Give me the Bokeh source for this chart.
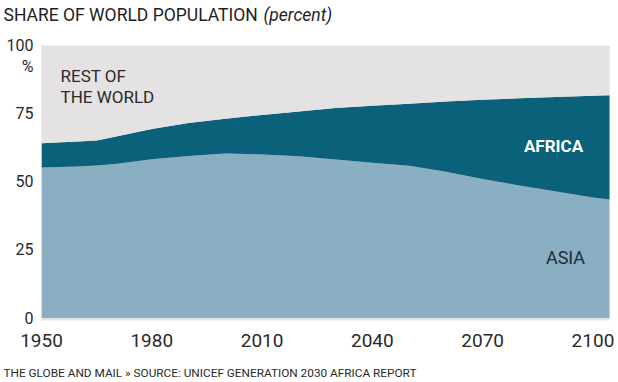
from bokeh.plotting import figure
from bokeh.models import ColumnDataSource, Label, FixedTicker, Range1d
from bokeh.layouts import column
from bokeh.embed import file_html
from bokeh.resources import INLINE

# ---- data ----
years = [1950, 1960, 1965, 1970, 1980, 1990, 2000, 2010, 2020, 2030, 2040,
         2050, 2060, 2070, 2080, 2090, 2100, 2105]
asia = [55.3, 55.7, 56.0, 56.6, 58.3, 59.5, 60.4, 60.1, 59.4, 58.2, 57.0,
        55.9, 53.7, 51.1, 48.7, 46.5, 44.3, 43.5]
africa = [8.9, 9.1, 9.2, 10.0, 11.1, 12.1, 12.8, 14.5, 16.5, 18.9, 21.0,
          22.8, 25.8, 29.1, 32.0, 34.7, 37.3, 38.3]
rest = [round(100 - a - b, 2) for a, b in zip(asia, africa)]
x_ticks = [1950, 1980, 2010, 2040, 2070, 2100]
y_ticks = [0, 25, 50, 75, 100]
pct_tick = 92.4  # position of the "%" unit mark under "100"

GRAY = "#e4e2e2"
TEAL = "#0b6179"
LIGHT = "#8aafc2"
TXT = "#2a2a2a"
FONT = "Roboto"
W = 618

X0, X1 = 1950, 2104.5
Y0, Y1 = -0.9, 100.1


def text_fig(h, top):
    f = figure(width=W, height=h, x_range=Range1d(0, W), y_range=Range1d(top + h, top),
               output_backend="svg", toolbar_location=None,
               x_axis_location=None, y_axis_location=None,
               min_border=0, outline_line_color=None, frame_align=False,
               background_fill_color="white", border_fill_color="white")
    f.grid.visible = False
    return f


def lab(fig, text, x, y, size, color=TXT, align="left", style="normal"):
    fig.add_layout(Label(x=x, y=y, text=text, text_font=FONT,
                         text_font_size=size, text_color=color, text_align=align,
                         text_baseline="middle", text_font_style=style))


# ---- header (page y 0..30) ----
head = text_fig(30, 0)
lab(head, "SHARE OF WORLD POPULATION", 3, 14, "17.5px", color="#1e1e1e")
lab(head, "(percent)", 263, 14, "17.5px", color="#1e1e1e", style="italic")

# ---- main chart (page y 30..356; frame x 41..609, y 45..320) ----
p = figure(width=W, height=326, x_range=Range1d(X0, X1), y_range=Range1d(Y0, Y1),
           output_backend="svg", toolbar_location=None, frame_align=False,
           min_border_left=41, min_border_right=9, min_border_top=15, min_border_bottom=36,
           background_fill_color=GRAY, border_fill_color="white", outline_line_color=None)
p.grid.visible = False

src = ColumnDataSource(dict(year=years, asia=asia, africa=africa, rest=rest))
p.varea_stack(["asia", "africa", "rest"], x="year", source=src, color=[LIGHT, TEAL, GRAY])

for ax in (p.xaxis, p.yaxis):
    ax.axis_line_color = None
    ax.major_tick_line_color = None
    ax.minor_tick_line_color = None
    ax.major_tick_out = 0
    ax.major_tick_in = 0
    ax.major_label_text_font = FONT
    ax.major_label_text_color = TXT

p.yaxis.ticker = FixedTicker(ticks=y_ticks + [pct_tick])
p.yaxis.major_label_overrides = {pct_tick: "%"}
p.yaxis.major_label_text_font_size = "16px"
p.yaxis.major_label_standoff = 8
p.xaxis.ticker = FixedTicker(ticks=x_ticks)
p.xaxis.major_label_text_font_size = "19px"
p.xaxis.major_label_standoff = 13


def PX(px):
    return X0 + (px - 41) * (X1 - X0) / 568.0


def PY(py):
    return Y0 + (320 - py) * (Y1 - Y0) / 275.0


lab(p, "REST OF", PX(60), PY(75), "17px")
lab(p, "THE WORLD", PX(60), PY(96), "17px")
lab(p, "AFRICA", PX(553), PY(145.5), "17px", color="white", align="center", style="bold")
lab(p, "ASIA", PX(565), PY(257), "18px", color="#1c2c38", align="center")

# ---- footer (page y 356..382) ----
foot = text_fig(26, 356)
lab(foot, "THE GLOBE AND MAIL \u00bb SOURCE: UNICEF GENERATION 2030 AFRICA REPORT", 3, 372, "11.8px")

layout = column(head, p, foot, spacing=0)
open("out.html", "w").write(file_html(layout, INLINE))
